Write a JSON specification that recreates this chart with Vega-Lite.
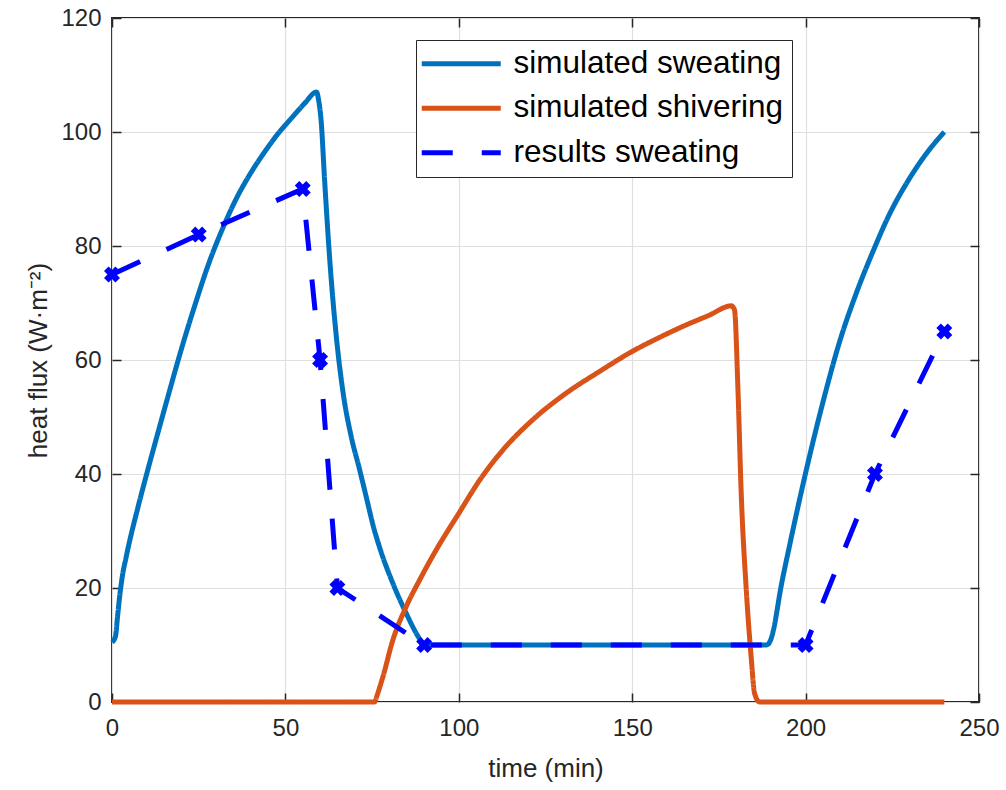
{
  "$schema": "https://vega.github.io/schema/vega-lite/v6.json",
  "width": 867,
  "height": 684,
  "autosize": "none",
  "padding": {"left": 112, "top": 18, "right": 27, "bottom": 88},
  "background": "white",
  "config": {
    "font": "Liberation Sans",
    "view": {"stroke": "#262626", "strokeWidth": 2},
    "axis": {"labelColor": "#262626", "titleColor": "#262626", "labelFont": "Liberation Sans", "titleFont": "Liberation Sans", "titleFontWeight": "normal", "labelFlush": false}
  },
  "data": {
    "values": [
      {"series": "simulated sweating", "t": 0, "v": 10.5},
      {"series": "simulated sweating", "t": 1, "v": 11.5},
      {"series": "simulated sweating", "t": 1.6, "v": 15},
      {"series": "simulated sweating", "t": 2.3, "v": 19},
      {"series": "simulated sweating", "t": 3.1, "v": 22.5},
      {"series": "simulated sweating", "t": 4, "v": 25.2},
      {"series": "simulated sweating", "t": 5, "v": 28},
      {"series": "simulated sweating", "t": 7.5, "v": 34.2},
      {"series": "simulated sweating", "t": 10, "v": 40},
      {"series": "simulated sweating", "t": 13, "v": 46.7},
      {"series": "simulated sweating", "t": 16, "v": 53.3},
      {"series": "simulated sweating", "t": 20, "v": 61.9},
      {"series": "simulated sweating", "t": 24, "v": 69.8},
      {"series": "simulated sweating", "t": 28, "v": 77.1},
      {"series": "simulated sweating", "t": 32, "v": 83.2},
      {"series": "simulated sweating", "t": 36, "v": 88.5},
      {"series": "simulated sweating", "t": 40, "v": 92.8},
      {"series": "simulated sweating", "t": 44, "v": 96.5},
      {"series": "simulated sweating", "t": 48, "v": 99.8},
      {"series": "simulated sweating", "t": 52, "v": 102.6},
      {"series": "simulated sweating", "t": 55.5, "v": 105},
      {"series": "simulated sweating", "t": 59, "v": 107},
      {"series": "simulated sweating", "t": 59.6, "v": 105.5},
      {"series": "simulated sweating", "t": 60.3, "v": 102},
      {"series": "simulated sweating", "t": 61.3, "v": 91.6},
      {"series": "simulated sweating", "t": 62.8, "v": 77.5},
      {"series": "simulated sweating", "t": 64.7, "v": 64},
      {"series": "simulated sweating", "t": 66.7, "v": 54},
      {"series": "simulated sweating", "t": 69, "v": 46.5},
      {"series": "simulated sweating", "t": 71.3, "v": 41},
      {"series": "simulated sweating", "t": 73.3, "v": 36},
      {"series": "simulated sweating", "t": 75.5, "v": 30.5},
      {"series": "simulated sweating", "t": 77.5, "v": 26.5},
      {"series": "simulated sweating", "t": 81, "v": 20.8},
      {"series": "simulated sweating", "t": 84.8, "v": 15.6},
      {"series": "simulated sweating", "t": 89, "v": 10.8},
      {"series": "simulated sweating", "t": 90, "v": 10},
      {"series": "simulated sweating", "t": 188.7, "v": 10},
      {"series": "simulated sweating", "t": 190, "v": 11},
      {"series": "simulated sweating", "t": 190.6, "v": 12.3},
      {"series": "simulated sweating", "t": 193, "v": 20.5},
      {"series": "simulated sweating", "t": 195.4, "v": 27.5},
      {"series": "simulated sweating", "t": 200.2, "v": 40.7},
      {"series": "simulated sweating", "t": 205, "v": 52.6},
      {"series": "simulated sweating", "t": 209.8, "v": 63.2},
      {"series": "simulated sweating", "t": 214.6, "v": 71.7},
      {"series": "simulated sweating", "t": 219.4, "v": 79},
      {"series": "simulated sweating", "t": 224.2, "v": 85.6},
      {"series": "simulated sweating", "t": 229, "v": 90.9},
      {"series": "simulated sweating", "t": 234.8, "v": 96.2},
      {"series": "simulated sweating", "t": 240, "v": 100},
      {"series": "simulated shivering", "t": 0, "v": 0},
      {"series": "simulated shivering", "t": 75.7, "v": 0},
      {"series": "simulated shivering", "t": 76.5, "v": 1.3},
      {"series": "simulated shivering", "t": 78.1, "v": 4.4},
      {"series": "simulated shivering", "t": 81, "v": 10.9},
      {"series": "simulated shivering", "t": 84.8, "v": 16.7},
      {"series": "simulated shivering", "t": 88.7, "v": 21.4},
      {"series": "simulated shivering", "t": 93.5, "v": 26.7},
      {"series": "simulated shivering", "t": 100, "v": 33.1},
      {"series": "simulated shivering", "t": 106, "v": 38.9},
      {"series": "simulated shivering", "t": 112.7, "v": 44.2},
      {"series": "simulated shivering", "t": 121.3, "v": 49.5},
      {"series": "simulated shivering", "t": 131, "v": 54.2},
      {"series": "simulated shivering", "t": 140.6, "v": 58},
      {"series": "simulated shivering", "t": 150, "v": 61.5},
      {"series": "simulated shivering", "t": 158, "v": 64},
      {"series": "simulated shivering", "t": 165, "v": 66},
      {"series": "simulated shivering", "t": 172, "v": 67.8},
      {"series": "simulated shivering", "t": 178.6, "v": 69.5},
      {"series": "simulated shivering", "t": 179.5, "v": 68.8},
      {"series": "simulated shivering", "t": 180.5, "v": 54.7},
      {"series": "simulated shivering", "t": 181.4, "v": 37.2},
      {"series": "simulated shivering", "t": 182.9, "v": 19.6},
      {"series": "simulated shivering", "t": 184.3, "v": 7.9},
      {"series": "simulated shivering", "t": 185.3, "v": 1.5},
      {"series": "simulated shivering", "t": 186.7, "v": 0},
      {"series": "simulated shivering", "t": 240, "v": 0},
      {"series": "results sweating", "t": 0, "v": 75},
      {"series": "results sweating", "t": 25, "v": 82},
      {"series": "results sweating", "t": 55, "v": 90},
      {"series": "results sweating", "t": 60, "v": 60},
      {"series": "results sweating", "t": 65, "v": 20},
      {"series": "results sweating", "t": 90, "v": 10},
      {"series": "results sweating", "t": 200, "v": 10},
      {"series": "results sweating", "t": 220, "v": 40},
      {"series": "results sweating", "t": 240, "v": 65}
    ]
  },
  "layer": [
    {
      "transform": [{"filter": "datum.series === 'simulated sweating'"}],
      "mark": {"type": "line", "strokeWidth": 5, "strokeJoin": "round", "interpolate": "monotone"},
      "encoding": {
        "x": {"field": "t", "type": "quantitative", "scale": {"domain": [0, 250], "nice": false},
          "axis": {"orient": "bottom", "title": "time (min)", "values": [0, 50, 100, 150, 200, 250], "labelFontSize": 24, "titleFontSize": 26, "tickSize": -9, "tickColor": "#262626", "tickWidth": 1.5, "labelPadding": 23, "titlePadding": 15, "domain": false, "grid": true, "gridColor": "#dfdfdf", "gridWidth": 1.2}},
        "y": {"field": "v", "type": "quantitative", "scale": {"domain": [0, 120], "nice": false},
          "axis": {"orient": "left", "title": "heat flux (W·m⁻²)", "values": [0, 20, 40, 60, 80, 100, 120], "labelFontSize": 24, "titleFontSize": 26, "tickSize": -9, "tickColor": "#262626", "tickWidth": 1.5, "labelPadding": 20, "titlePadding": 9, "domain": false, "grid": true, "gridColor": "#dfdfdf", "gridWidth": 1.2}},
        "color": {"field": "series", "type": "nominal",
          "scale": {"domain": ["simulated sweating", "simulated shivering", "results sweating"], "range": ["#0072BD", "#D95319", "#0000FF"]},
          "legend": {"title": null, "orient": "none", "legendX": 304, "legendY": 22, "symbolType": "M-1.8,0H6.1", "symbolSize": 400, "symbolStrokeWidth": 5, "labelFontSize": 31.5, "labelColor": "#000000", "labelOffset": 58, "rowPadding": 11.5, "padding": 8, "fillColor": "white", "strokeColor": "#262626", "labelLimit": 400}},
        "strokeDash": {"field": "series", "type": "nominal",
          "scale": {"domain": ["simulated sweating", "simulated shivering", "results sweating"], "range": [[1, 0], [1, 0], [31, 29]]},
          "legend": {"title": null, "orient": "none", "legendX": 304, "legendY": 22, "symbolType": "M-1.8,0H6.1", "symbolSize": 400, "symbolStrokeWidth": 5, "labelFontSize": 31.5, "labelColor": "#000000", "labelOffset": 58, "rowPadding": 11.5, "padding": 8, "fillColor": "white", "strokeColor": "#262626", "labelLimit": 400}}
      }
    },
    {
      "transform": [{"filter": "datum.series === 'simulated shivering'"}],
      "mark": {"type": "line", "strokeWidth": 5, "strokeJoin": "round", "interpolate": "monotone"},
      "encoding": {
        "x": {"field": "t", "type": "quantitative", "axis": null},
        "y": {"field": "v", "type": "quantitative", "axis": null},
        "color": {"field": "series", "type": "nominal"},
        "strokeDash": {"field": "series", "type": "nominal"}
      }
    },
    {
      "transform": [{"filter": "datum.series === 'results sweating'"}],
      "mark": {"type": "line", "strokeWidth": 5, "strokeCap": "butt"},
      "encoding": {
        "x": {"field": "t", "type": "quantitative", "axis": null},
        "y": {"field": "v", "type": "quantitative", "axis": null},
        "color": {"field": "series", "type": "nominal"},
        "strokeDash": {"field": "series", "type": "nominal"}
      }
    },
    {
      "transform": [{"filter": "datum.series === 'results sweating'"}],
      "mark": {"type": "point", "shape": "cross", "angle": 45, "filled": true, "size": 260, "color": "#0000FF", "opacity": 1},
      "encoding": {
        "x": {"field": "t", "type": "quantitative",
          "axis": {"orient": "top", "title": null, "labels": false, "values": [0, 50, 100, 150, 200, 250], "tickSize": -9, "tickColor": "#262626", "tickWidth": 1.5, "domain": false, "grid": false}},
        "y": {"field": "v", "type": "quantitative",
          "axis": {"orient": "right", "title": null, "labels": false, "values": [0, 20, 40, 60, 80, 100, 120], "tickSize": -9, "tickColor": "#262626", "tickWidth": 1.5, "domain": false, "grid": false}}
      }
    }
  ],
  "resolve": {"axis": {"x": "independent", "y": "independent"}}
}
